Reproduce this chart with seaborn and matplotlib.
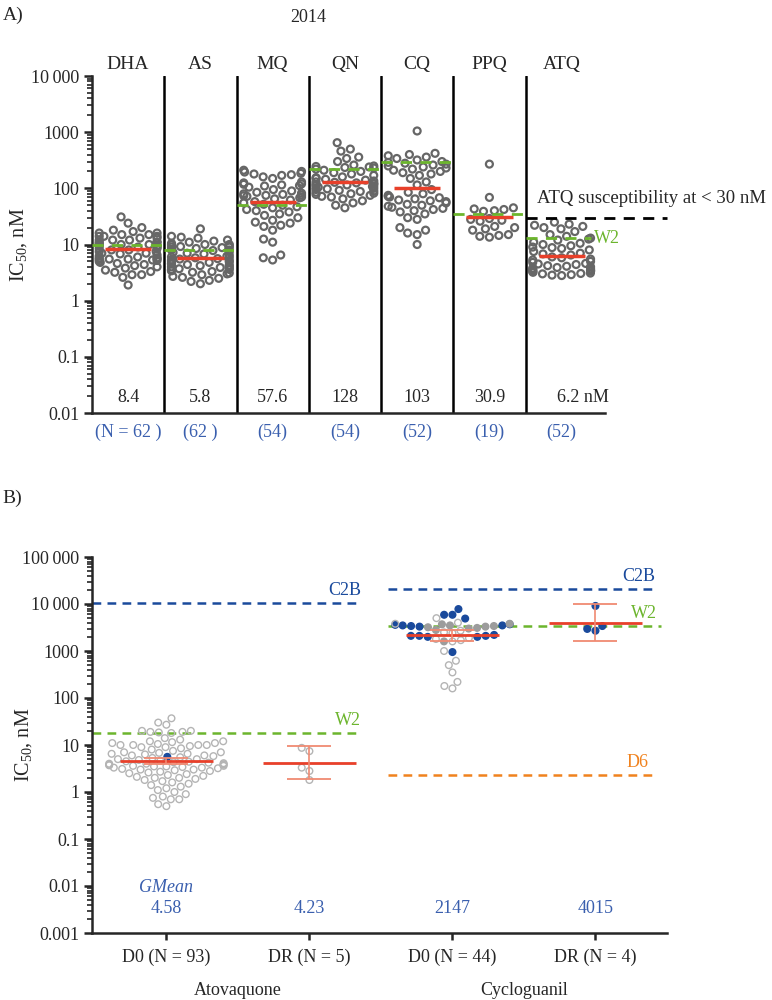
import numpy as np
import pandas as pd
import matplotlib
matplotlib.use("Agg")
import matplotlib.pyplot as plt
import matplotlib.transforms as mtransforms
from matplotlib.colors import to_rgba
from matplotlib.ticker import LogLocator, NullFormatter
import seaborn as sns

# ================= Panel A : 2014 IC50 per drug =================
drugs = ["DHA", "AS", "MQ", "QN", "CQ", "PPQ", "ATQ"]

dha = [31, 24, 20, 18, 17, 16, 16, 15, 15, 14, 14, 14, 13, 13, 12, 12, 12, 11, 11, 11,
       10.5, 10, 10, 10, 9.5, 9.5, 9, 9, 8.5, 8.5, 8, 8, 7.5, 7.5, 7, 7, 6.8, 6.5, 6.2, 6,
       5.8, 5.7, 5.6, 5.5, 5.5, 5.4, 5.3, 5.2, 5, 4.8, 4.6, 4.4, 4.2, 4, 3.8, 3.5, 3.3, 3.2,
       2.9, 2.9, 2.6, 1.9]
art = [19, 14, 13.5, 13, 12, 11.5, 11, 10.5, 10, 10, 9.8, 9.5, 9.2, 9, 9, 8.8, 8.5, 8.2, 8, 8,
       7.8, 7.5, 7.2, 7, 6.8, 6.5, 6.2, 6, 5.9, 5.8, 5.6, 5.5, 5.3, 5.2, 5, 4.9, 4.8, 4.6, 4.5,
       4.4, 4.3, 4.2, 4.1, 4, 3.9, 3.8, 3.7, 3.6, 3.6, 3.5, 3.4, 3.3, 3.2, 3.1, 3, 2.9, 2.7,
       2.6, 2.5, 2.3, 2.2, 2.0]
mq = [210, 200, 195, 185, 180, 175, 170, 160, 150, 130, 125, 120, 118, 115, 112, 110, 105, 95,
      90, 85, 82, 80, 78, 76, 75, 74, 72, 70, 68, 65, 62, 58, 55, 52, 50, 47, 45, 42, 38, 35,
      33, 30, 27, 25, 24, 22, 21, 18, 12.5, 11, 6.5, 5.8, 5.3, 40]
qn = [650, 500, 460, 360, 340, 300, 260, 250, 245, 240, 235, 230, 220, 210, 200, 190, 180, 170,
      160, 155, 150, 145, 140, 135, 130, 128, 125, 122, 120, 118, 115, 112, 110, 108, 105, 102,
      100, 98, 95, 92, 90, 88, 85, 82, 80, 78, 75, 72, 70, 65, 60, 55, 50, 45]
cq = [1050, 420, 400, 380, 360, 340, 320, 300, 290, 280, 270, 260, 250, 240, 230, 220, 210, 200,
      190, 180, 170, 150, 130, 115, 95, 85, 80, 75, 72, 70, 68, 65, 62, 60, 58, 55, 52, 50, 48,
      46, 44, 42, 40, 38, 35, 30, 28, 20, 18, 16, 15, 10]
ppq = [270, 69, 45, 43, 42, 40, 39, 29, 28, 27, 26, 21, 20, 19, 18, 15, 14.5, 14, 13.5]
atq = [25, 23, 22, 21, 20, 19, 17, 15, 14, 13, 12.5, 12, 11, 10.5, 10, 9.5, 9, 8.8, 8.5, 8,
       7.5, 7, 6.8, 6.5, 6, 5.8, 5.5, 5.3, 5, 4.8, 4.6, 4.5, 4.4, 4.2, 4.1, 4, 3.9, 3.8, 3.7,
       3.6, 3.5, 3.45, 3.4, 3.35, 3.3, 3.2, 3.1, 3.05, 3, 2.9, 2.85, 2.8]

gmean_a = [8.4, 5.8, 57.6, 128, 103, 30.9, 6.2]
gmean_txt_a = ["8.4", "5.8", "57.6", "128", "103", "30.9", "6.2 nM"]
n_txt_a = ["(N = 62 )", "(62 )", "(54)", "(54)", "(52)", "(19)", "(52)"]
w2_a = [10, 7.9, 50, 222, 295, 35, 13]
atq_cutoff = 30

# ================= Panel B : D0 / DR =================
groups_b = ["D0 (N = 93)", "DR (N = 5)", "D0 (N = 44)", "DR (N = 4)"]
drug_b = ["Atovaquone", "Cycloguanil"]

atv_d0_open = [37, 30, 27, 20, 20, 19, 19, 18.5, 18, 14, 13, 12, 12, 11.5, 11, 11, 10.5, 10, 10,
               10, 10, 9.5, 9, 9, 8.5, 8, 7.5, 7, 7, 6.8, 6.5, 6.5, 6.3, 6, 6, 5.8, 5.5, 5.3, 5,
               5, 4.8, 4.6, 4.5, 4.4, 4.3, 4.2, 4.1, 4, 4, 3.9, 3.8, 3.8, 3.7, 3.6, 3.6, 3.5, 3.5,
               3.4, 3.3, 3.3, 3.2, 3.1, 3, 3, 2.9, 2.8, 2.7, 2.6, 2.5, 2.4, 2.3, 2.2, 2.1, 2, 2,
               1.9, 1.8, 1.7, 1.6, 1.5, 1.4, 1.3, 1.2, 1.1, 1.0, 0.9, 0.8, 0.75, 0.7, 0.7, 0.55, 0.5]
atv_d0_blue = [5.6]
atv_dr_open = [8.7, 7.4, 3.3, 2.8, 1.8]
cyc_d0_blue = [7800, 5900, 5900, 4900, 3700, 3500, 3500, 3400, 3300, 3600, 2200, 2100, 2100,
               2100, 2000, 2000, 950]
cyc_d0_gray = [3800, 3700, 3500, 3400, 3300, 3200, 3100, 3000, 2800, 1600]
cyc_d0_open = [5000, 4000, 3800, 2700, 2500, 2400, 1900, 1800, 1700, 1600, 1000, 620, 500, 350,
               220, 180, 160]
cyc_dr_blue = [9100, 3400, 2950, 2700]

gmean_b = [4.58, 4.23, 2147, 4015]
ci_lo_b = [3.9, 1.85, 1620, 1600]
ci_hi_b = [5.4, 9.7, 2750, 10000]
c2b_b = [10500, 21000]
w2_b = [18, 3400]
d6_cyc = 2.3

# ---- colours ----
DARK = "#666666"
LIGHT = "#b4b4b4"
GRAYF = "#9c9c9c"
BLUE = "#1a4a9c"
TXTBLUE = "#3a5fae"
GREEN = "#6cb52d"
RED = "#e8402a"
PINK = "#f08a72"
ORANGE = "#f0821e"

sns.set_style("ticks")
plt.rcParams["font.family"] = ["Liberation Serif", "DejaVu Serif"]
plt.rcParams["mathtext.default"] = "regular"
FS = 13

fig = plt.figure(figsize=(7.72, 10), dpi=100)

# ---------------- Panel A ----------------
axA = fig.add_axes([92 / 772, 1 - 413 / 1000, 513 / 772, 337 / 1000])
vals_a = [dha, art, mq, qn, cq, ppq, atq]
df_a = pd.DataFrame({"drug": np.repeat(drugs, [len(v) for v in vals_a]),
                     "ic50": np.concatenate(vals_a)})
sns.swarmplot(data=df_a, x="drug", y="ic50", order=drugs, ax=axA, log_scale=True,
              size=5, color=DARK, edgecolor=DARK, linewidth=1.6, warn_thresh=1)
for c in axA.collections:
    c.set_facecolor("none")
    c.set_edgecolor(DARK)

xa = np.arange(len(drugs))
axA.set_xlim(-0.5, 6.6)
axA.set_ylim(0.01, 10000)
for i in range(len(drugs) - 1):
    axA.axvline(i + 0.5, color="black", lw=1.8, zorder=1)

axA.hlines(gmean_a, xa - 0.32, xa + 0.32, color=RED, lw=2.5, zorder=5)
for i, w in enumerate(w2_a):
    right = i + 0.5 if i < len(drugs) - 1 else 6.4
    axA.hlines(w, i - 0.5, right, color=GREEN, lw=2, linestyles=(0, (4, 3)), zorder=6)
axA.hlines(atq_cutoff, 5.5, 7.46, color="black", lw=2, linestyles=(0, (4, 3)),
           clip_on=False, zorder=6)
axA.text(5.66, 65, "ATQ susceptibility at < 30 nM", fontsize=FS + 0.5, ha="left", va="center")
axA.text(6.45, w2_a[-1], "W2", color=GREEN, fontsize=FS, ha="left", va="center")

trA = mtransforms.blended_transform_factory(axA.transData, axA.transAxes)
for i, d in enumerate(drugs):
    axA.text(i, 1.033, d, transform=trA, ha="center", va="center", fontsize=14)
    axA.text(i + (0.3 if i == 6 else 0), 0.045, gmean_txt_a[i], transform=trA,
             ha="center", va="center", fontsize=FS)
    axA.text(i, -0.058, n_txt_a[i], transform=trA, ha="center", va="center",
             fontsize=FS, color=TXTBLUE)

axA.set_xticks([])
axA.set_xlabel("")
axA.set_yticks([0.01, 0.1, 1, 10, 100, 1000, 10000])
axA.set_yticklabels(["0.01", "0.1", "1", "10", "100", "1000", "10\u2009000"], fontsize=FS)
axA.yaxis.set_minor_locator(LogLocator(base=10, subs=np.arange(2, 10), numticks=20))
axA.yaxis.set_minor_formatter(NullFormatter())
axA.tick_params(axis="y", which="major", length=6, width=1.8, direction="out", pad=3)
axA.tick_params(axis="y", which="minor", length=3.5, width=1.2, direction="out")
axA.set_ylabel("IC$_{50}$, nM", fontsize=14.5)
axA.yaxis.set_label_coords(-0.122, 0.5)
sns.despine(ax=axA)
for s in ["left", "bottom"]:
    axA.spines[s].set_linewidth(1.8)

fig.text(0.003, 0.985, "A)", fontsize=14, va="center", ha="left")
fig.text(0.399, 0.983, "2014", fontsize=FS, va="center", ha="center")

# ---------------- Panel B ----------------
axB = fig.add_axes([92 / 772, 1 - 933 / 1000, 575 / 772, 376 / 1000])
parts = [
    (groups_b[0], "open", atv_d0_open), (groups_b[0], "blue", atv_d0_blue),
    (groups_b[1], "open", atv_dr_open),
    (groups_b[2], "blue", cyc_d0_blue), (groups_b[2], "gray", cyc_d0_gray),
    (groups_b[2], "open", cyc_d0_open),
    (groups_b[3], "blue", cyc_dr_blue),
]
df_b = pd.concat([pd.DataFrame({"group": g, "kind": k, "ic50": v}) for g, k, v in parts],
                 ignore_index=True)
sns.swarmplot(data=df_b, x="group", y="ic50", hue="kind", order=groups_b,
              hue_order=["open", "gray", "blue"],
              palette={"open": LIGHT, "gray": GRAYF, "blue": BLUE},
              ax=axB, log_scale=True, size=4.8, linewidth=1.0, edgecolor=LIGHT,
              legend=False, warn_thresh=1)
light_rgba = np.array(to_rgba(LIGHT))
for c in axB.collections:
    fc = np.array(c.get_facecolors())
    if fc.size == 0:
        continue
    ec = fc.copy()
    is_open = np.all(np.isclose(fc, light_rgba, atol=0.01), axis=1)
    fc[is_open, 3] = 0
    c.set_facecolors(fc)
    c.set_edgecolors(ec)

xb = np.arange(len(groups_b))
axB.set_xlim(-0.52, 3.5)
axB.set_ylim(0.001, 100000)

axB.hlines(gmean_b, xb - 0.325, xb + 0.325, color=RED, lw=2, zorder=6)
gm = np.array(gmean_b)
axB.errorbar(xb, gm, yerr=[gm - np.array(ci_lo_b), np.array(ci_hi_b) - gm], fmt="none",
             ecolor=PINK, elinewidth=1.2, capsize=16, capthick=1.3, zorder=6)

dash = (0, (3.5, 2.5))
spans = [(-0.52, 1.36), (1.55, 3.43)]
axB.hlines(c2b_b[0], *spans[0], color=BLUE, lw=1.8, linestyles=dash, zorder=2)
axB.hlines(c2b_b[1], *spans[1], color=BLUE, lw=1.8, linestyles=dash, zorder=2)
axB.hlines(w2_b[0], *spans[0], color=GREEN, lw=1.8, linestyles=dash, zorder=2)
axB.hlines(w2_b[1], spans[1][0], 3.46, color=GREEN, lw=1.8, linestyles=dash, zorder=2)
axB.hlines(d6_cyc, *spans[1], color=ORANGE, lw=1.8, linestyles=dash, zorder=2)

lab_kw = dict(textcoords="offset points", xytext=(0, 3), ha="right", va="bottom", fontsize=FS)
axB.annotate("C2B", xy=(1.36, c2b_b[0]), color=BLUE, **lab_kw)
axB.annotate("W2", xy=(1.36, w2_b[0]), color=GREEN, **lab_kw)
axB.annotate("C2B", xy=(3.42, c2b_b[1]), color=BLUE, **lab_kw)
axB.annotate("W2", xy=(3.43, w2_b[1]), color=GREEN, **lab_kw)
axB.annotate("D6", xy=(3.37, d6_cyc), color=ORANGE, **lab_kw)

trB = mtransforms.blended_transform_factory(axB.transData, axB.transAxes)
axB.text(0, 0.122, "GMean", transform=trB, ha="center", va="center", fontsize=FS,
         color=TXTBLUE, style="italic")
for i, g in enumerate(gmean_b):
    axB.text(i, 0.066, f"{g:g}", transform=trB, ha="center", va="center", fontsize=FS,
             color=TXTBLUE)
for i, d in enumerate(drug_b):
    axB.text(0.5 + 2 * i, -0.152, d, transform=trB, ha="center", va="center", fontsize=FS)

axB.set_xticks(xb)
axB.set_xticklabels(groups_b, fontsize=FS)
axB.set_xlabel("")
axB.tick_params(axis="x", length=5, width=1.8, direction="out", pad=6)
axB.set_yticks([0.001, 0.01, 0.1, 1, 10, 100, 1000, 10000, 100000])
axB.set_yticklabels(["0.001", "0.01", "0.1", "1", "10", "100", "1000", "10\u2009000",
                     "100\u2009000"], fontsize=FS)
axB.yaxis.set_minor_locator(LogLocator(base=10, subs=np.arange(2, 10), numticks=20))
axB.yaxis.set_minor_formatter(NullFormatter())
axB.tick_params(axis="y", which="major", length=6, width=1.8, direction="out", pad=3)
axB.tick_params(axis="y", which="minor", length=3.5, width=1.2, direction="out")
axB.set_ylabel("IC$_{50}$, nM", fontsize=14.5)
axB.yaxis.set_label_coords(-0.1, 0.5)
sns.despine(ax=axB)
for s in ["left", "bottom"]:
    axB.spines[s].set_linewidth(1.8)

fig.text(0.003, 0.502, "B)", fontsize=14, va="center", ha="left")

fig.savefig("out.png", dpi=100, facecolor="white")
